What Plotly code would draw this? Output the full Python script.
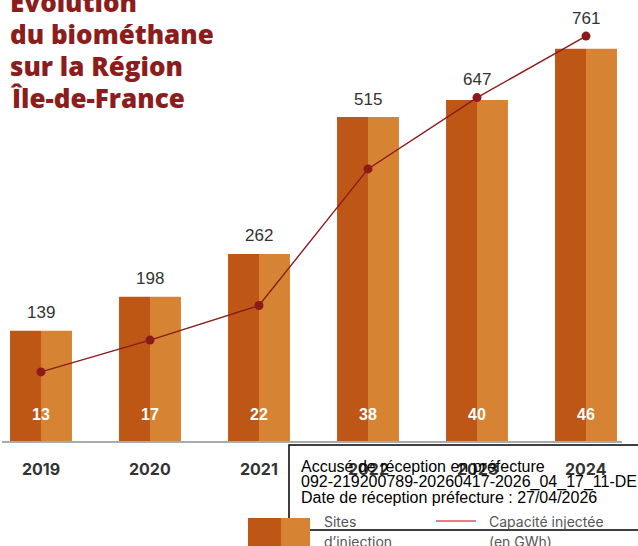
import plotly.graph_objects as go

years = [2019, 2020, 2021, 2022, 2023, 2024]
sites = [13, 17, 22, 38, 40, 46]
capacity_gwh = [139, 198, 262, 515, 647, 761]

title_lines = ["Évolution", "du biométhane", "sur la Région", "Île-de-France"]
stamp_lines = [
    "Accusé de réception en préfecture",
    "092-219200789-20260417-2026_04_17_11-DE",
    "Date de réception préfecture : 27/04/2026",
]

W, H = 638, 546
DARK = "#BE5616"
LIGHT = "#D68434"
LINE = "#8B1A1A"

# pixel layout of the two value axes (full-height plot area)
base_px, site_px = 442, 8.55
cap_zero_px, cap_px = 447, 0.54
y_range = [(base_px - H) / site_px, base_px / site_px]
y2_range = [(cap_zero_px - H) / cap_px, cap_zero_px / cap_px]


def cap_to_y(v):
    # capacity value expressed in the sites axis units
    return (base_px - (cap_zero_px - cap_px * v)) / site_px


fig = go.Figure()
half = 0.284
fig.add_trace(go.Bar(x=years, y=sites, width=half, offset=-half, marker_color=DARK,
                     marker_line_width=0, name="Sites d'injection"))
fig.add_trace(go.Bar(x=years, y=sites, width=half, offset=0, marker_color=LIGHT,
                     marker_line_width=0, showlegend=False))
fig.add_trace(go.Scatter(x=years, y=capacity_gwh, yaxis="y2", mode="lines+markers",
                         line=dict(color=LINE, width=1.4), marker=dict(color=LINE, size=9),
                         cliponaxis=False, name="Capacité injectée"))

ann = []
for yr, s, c in zip(years, sites, capacity_gwh):
    ann.append(dict(x=yr, y=max(s, cap_to_y(c)), text=str(c), showarrow=False, yshift=18,
                    font=dict(family="Liberation Sans", size=17, color="#333333")))
    ann.append(dict(x=yr, y=0, text=str(s), showarrow=False, yshift=28,
                    font=dict(family="Liberation Sans", size=16, color="white", weight="bold")))
    ann.append(dict(x=yr, y=0, text=str(yr), showarrow=False, yshift=-27,
                    font=dict(family="Inter", size=16, color="#333333", weight="bold")))

for i, line in enumerate(title_lines):
    ann.append(dict(xref="paper", yref="paper", x=8 / W, y=1 - (2 + 32 * i) / H,
                    xanchor="left", yanchor="middle", showarrow=False, text=line,
                    font=dict(family="Open Sans", size=26, color="#8B1D1D", weight=800)))

for i, line in enumerate(stamp_lines):
    ann.append(dict(xref="paper", yref="paper", x=299 / W, y=1 - (466 + 15.5 * i) / H,
                    xanchor="left", yanchor="middle", showarrow=False, text=line,
                    font=dict(family="Liberation Sans", size=16, color="black")))

legend_txt = [("Sites", 322, 521), ("d’injection", 322, 541),
              ("Capacité injectée", 487, 521), ("(en GWh)", 487, 541)]
for t, lx, ly in legend_txt:
    ann.append(dict(xref="paper", yref="paper", x=lx / W, y=1 - ly / H, xanchor="left",
                    yanchor="middle", showarrow=False, text=t,
                    font=dict(family="Inter", size=14, color="#555555")))

shapes = [
    dict(type="line", xref="paper", yref="y", x0=2 / W, x1=622 / W, y0=0, y1=0,
         line=dict(color="#AAAAAA", width=2)),
    dict(type="rect", xref="paper", yref="paper", x0=289 / W, x1=1.02, y0=1 - 530 / H,
         y1=1 - 445 / H, line=dict(color="black", width=1.5), fillcolor="rgba(0,0,0,0)"),
    dict(type="rect", xref="paper", yref="paper", x0=248 / W, x1=281 / W, y0=-0.02,
         y1=1 - 518 / H, line_width=0, fillcolor=DARK),
    dict(type="rect", xref="paper", yref="paper", x0=281 / W, x1=310 / W, y0=-0.02,
         y1=1 - 518 / H, line_width=0, fillcolor=LIGHT),
    dict(type="line", xref="paper", yref="paper", x0=436 / W, x1=476 / W, y0=1 - 521 / H,
         y1=1 - 521 / H, line=dict(color="#E8505B", width=1.5)),
]

px_per_year = 109
fig.update_layout(
    width=W, height=H, margin=dict(l=0, r=0, t=0, b=0),
    paper_bgcolor="white", plot_bgcolor="white", showlegend=False,
    barmode="overlay",
    xaxis=dict(range=[2019 - 41 / px_per_year, 2019 + (W - 41) / px_per_year], visible=False),
    yaxis=dict(range=y_range, visible=False),
    yaxis2=dict(range=y2_range, visible=False, overlaying="y"),
    annotations=ann, shapes=shapes,
)

fig.write_html("out.html", config={"displayModeBar": False},
               post_script="document.body.style.margin='0';")
